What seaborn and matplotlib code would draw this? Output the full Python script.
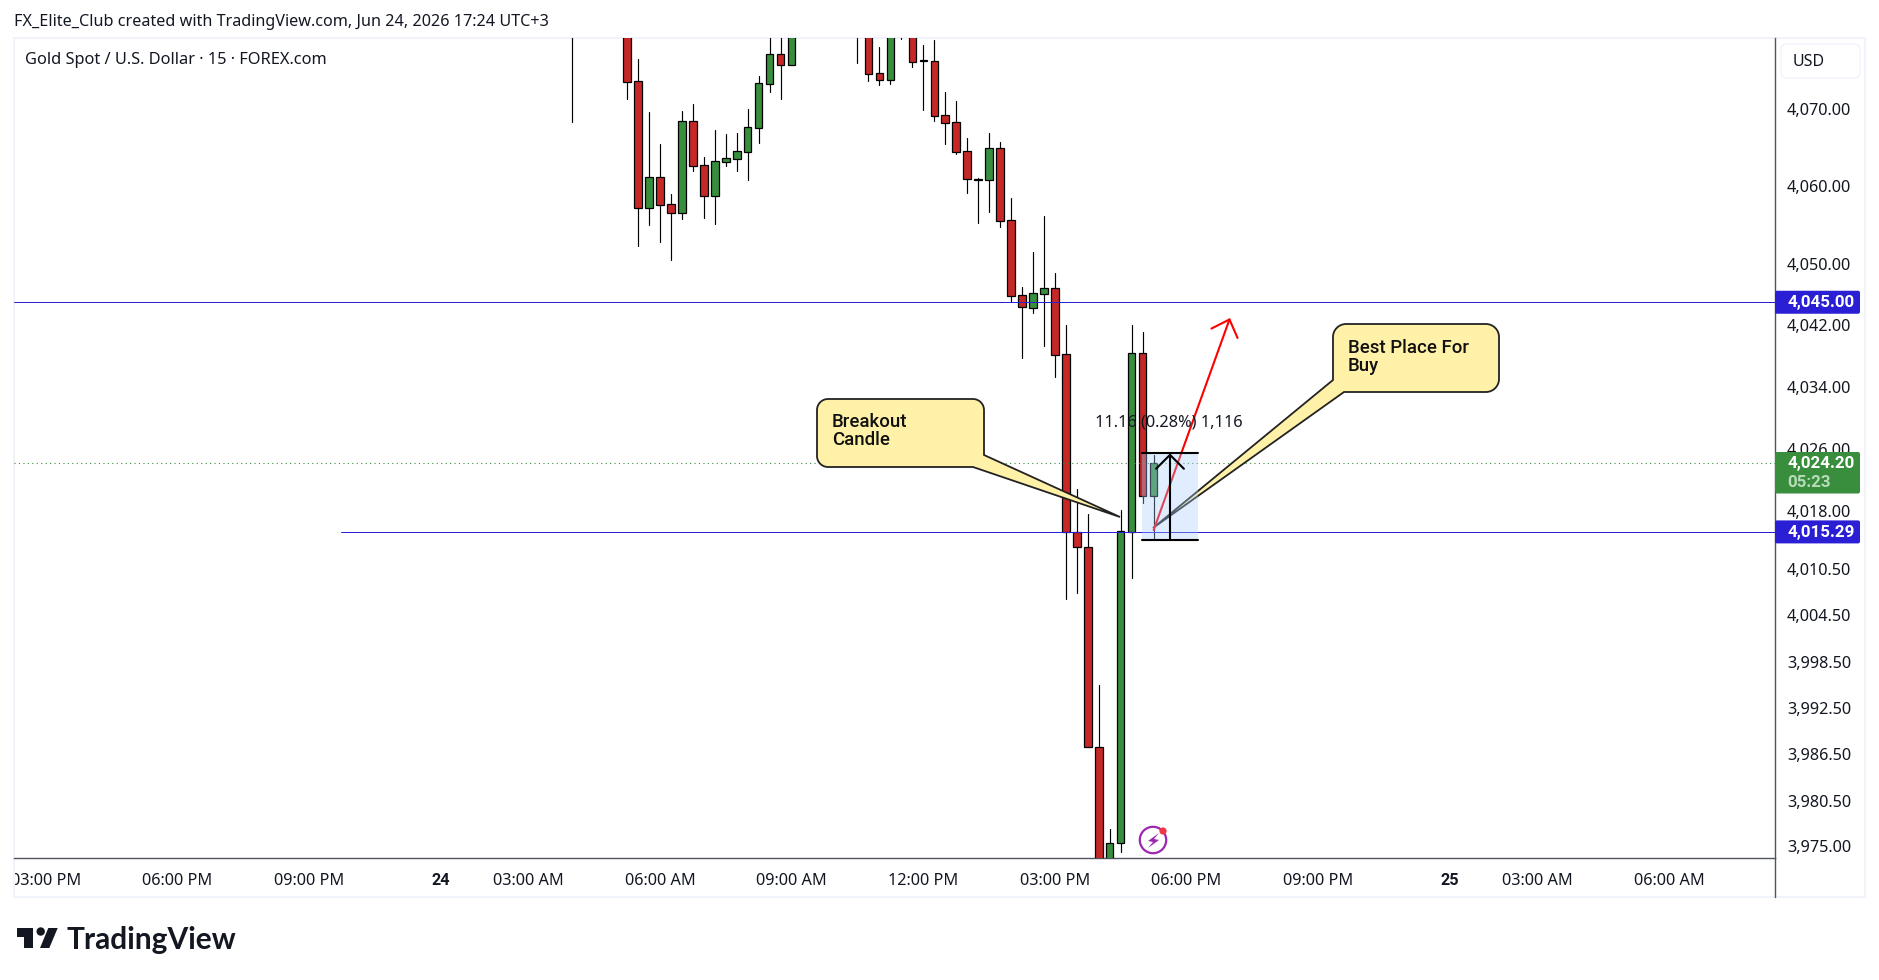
import numpy as np
import pandas as pd
import seaborn as sns
import matplotlib
matplotlib.use("Agg")
from matplotlib import pyplot as plt
from matplotlib.path import Path
from matplotlib.patches import PathPatch, Rectangle, FancyBboxPatch, Circle, Polygon
from matplotlib.transforms import Affine2D, Bbox

# 15 minute candles, bar 0 is 06:00 AM on the 24th. Bars above the window are estimates.
bars = list(range(-8, 46))
opens = [4082, 4086, 4088, 4087, 4085,
         4082, 4073.58, 4057.24, 4061.16, 4057.67, 4056.59, 4068.4, 4062.71, 4058.79, 4063.19,
         4063.58, 4064.48, 4067.59, 4073.28, 4077.07, 4075.74,
         4084, 4086, 4088, 4086, 4084, 4082,
         4082, 4074.61, 4073.79, 4082, 4082, 4076.2, 4076.17, 4069.18, 4068.28, 4064.52,
         4061.0, 4060.86, 4064.91, 4055.6, 4045.9, 4044.3, 4046.11, 4046.8, 4038.27, 4015.24,
         4013.38, 3987.5, 3971.0, 3975.09, 4015.32, 4038.39, 4019.98]
closes = [4085, 4088, 4087, 4085, 4082,
          4073.54, 4057.24, 4061.16, 4057.62, 4056.59, 4068.4, 4062.67, 4058.79, 4063.23, 4063.62,
          4064.52, 4067.63, 4073.32, 4077.07, 4075.74, 4082,
          4086, 4088, 4086, 4084, 4082, 4080.5,
          4074.57, 4073.79, 4082, 4082, 4076.12, 4076.17, 4069.14, 4068.23, 4064.48, 4060.99,
          4060.85, 4064.91, 4055.55, 4045.85, 4044.34, 4046.16, 4046.8, 4038.22, 4015.24, 4013.38,
          3987.5, 3970.0, 3975.09, 4015.37, 4038.39, 4019.98, 4024.16]
highs = [4088, 4090, 4090, 4089, 4087,
         4084, 4076.43, 4069.57, 4065.43, 4059.0, 4069.74, 4070.65, 4063.79, 4067.28, 4066.77,
         4066.9, 4070.0, 4074.27, 4080, 4080, 4083,
         4088, 4090, 4090, 4088, 4086, 4084,
         4084, 4078.02, 4083, 4084, 4084, 4078.28, 4078.93, 4072.2, 4071.03, 4066.25,
         4061.03, 4066.9, 4065.73, 4058.44, 4046.93, 4051.46, 4056.16, 4048.74, 4042.06, 4020.8,
         4017.61, 3995.49, 3976.82, 4018.13, 4042.06, 4041.11, 4025.24]
lows = [4068.36, 4084, 4085, 4084, 4081,
        4071.29, 4052.28, 4054.99, 4052.8, 4050.47, 4055.77, 4061.98, 4055.9, 4055.12, 4062.63,
        4061.98, 4060.82, 4065.6, 4072.2, 4071.29, 4075.74,
        4082, 4084, 4085, 4084, 4081, 4075.95,
        4073.62, 4073.1, 4073.23, 4079.1, 4075.43, 4069.87, 4068.45, 4065.47, 4064.18, 4059.13,
        4055.25, 4056.68, 4054.74, 4044.99, 4037.83, 4043.65, 4039.39, 4035.38, 4006.61, 4007.43,
        3987.5, 3968.0, 3969.0, 3973.93, 4009.37, 4019.07, 4014.25]

y_ticks = [4070, 4060, 4050, 4042, 4034, 4026, 4018, 4010.5, 4004.5, 3998.5, 3992.5, 3986.5, 3980.5, 3975]
x_ticks = [-56, -44, -32, -20, -12, 0, 12, 24, 36, 48, 60, 72, 80, 92]
x_labels = ["03:00 PM", "06:00 PM", "09:00 PM", "24", "03:00 AM", "06:00 AM", "09:00 AM", "12:00 PM",
            "03:00 PM", "06:00 PM", "09:00 PM", "25", "03:00 AM", "06:00 AM"]

level_high = 4045.00
level_low = 4015.29
last_price = 4024.20

W, H = 1879, 980
PLOT_L, PLOT_R, PLOT_T, PLOT_B = 14, 1775, 38, 858
FONT = "Noto Sans"
BOLD = "Roboto"
RED, GREEN, BLUE = "#c62828", "#388e3c", "#2a1fd4"
NOTE = "#fff2a8"


def to_y(px):
    return 4070 - (px - 109) / 7.73


def to_x(px):
    return (px - 660) / 10.97


def corner(x, y, cx, cy, ex, ey):
    # three control points of a rounded corner that ends at (ex, ey)
    return [(x + (cx - x) * 0.55, y + (cy - y) * 0.55), (ex + (cx - ex) * 0.55, ey + (cy - ey) * 0.55), (ex, ey)]


def callout(ax, px, x0, y0, x1, y1, r, skip, tail, text, tx, ty):
    # rounded box walked clockwise, the corner named by skip is replaced by the wedge
    verts = [(x0 + r, y0), (x1 - r, y0)] + corner(x1 - r, y0, x1, y0, x1, y0 + r)
    codes = [Path.MOVETO, Path.LINETO] + [Path.CURVE4] * 3
    if skip == "br":
        verts += tail
        codes += [Path.LINETO] * 3
    else:
        verts += [(x1, y1 - r)] + corner(x1, y1 - r, x1, y1, x1 - r, y1)
        codes += [Path.LINETO] + [Path.CURVE4] * 3
    if skip == "bl":
        verts += tail
        codes += [Path.LINETO] * 3
    else:
        verts += [(x0 + r, y1)] + corner(x0 + r, y1, x0, y1, x0, y1 - r)
        codes += [Path.LINETO] + [Path.CURVE4] * 3
    verts += [(x0, y0 + r)] + corner(x0, y0 + r, x0, y0, x0 + r, y0)
    codes += [Path.LINETO] + [Path.CURVE4] * 3
    ax.add_patch(PathPatch(Path(verts, codes), fc=NOTE, ec="#222222", lw=1.3, transform=px,
                           clip_on=False, zorder=6))
    ax.text(tx, ty, text, transform=px, fontsize=13.4, family=BOLD, color="#111111", va="top", ha="left",
            linespacing=1.0, zorder=7, fontweight="medium")


df = pd.DataFrame({"bar": bars, "open": opens, "close": closes, "high": highs, "low": lows})
df["top"] = df[["open", "close"]].max(axis=1)
df["bottom"] = df[["open", "close"]].min(axis=1)
df["height"] = (df["top"] - df["bottom"]).clip(lower=0.12)
up = df[df["close"] >= df["open"]]
down = df[df["close"] < df["open"]]
wicks = df.melt(id_vars="bar", value_vars=["low", "high"], value_name="price").sort_values(["bar", "price"])

sns.set_theme(style="white")
plt.rcParams["font.family"] = [FONT, "DejaVu Sans"]

fig = plt.figure(figsize=(W / 100, H / 100), dpi=100, facecolor="white")
ax = fig.add_axes([PLOT_L / W, 1 - PLOT_B / H, (PLOT_R - PLOT_L) / W, (PLOT_B - PLOT_T) / H])
px = Affine2D().scale(1, -1).translate(0, H)

sns.lineplot(data=wicks, x="bar", y="price", units="bar", estimator=None, sort=False, color="black",
             linewidth=0.85, ax=ax, zorder=2, legend=False)
for part, colour in ((up, GREEN), (down, RED)):
    sns.barplot(data=part, x="bar", y="height", bottom=part["bottom"].values, native_scale=True, width=0.68,
                color=colour, saturation=1, edgecolor="black", linewidth=0.9, errorbar=None, ax=ax, zorder=3)

ax.set_xlim(to_x(PLOT_L), to_x(PLOT_R))
ax.set_ylim(to_y(PLOT_B), to_y(PLOT_T))
ax.set_xlabel("")
ax.set_ylabel("")
ax.set_xticks(x_ticks)
ax.set_xticklabels(x_labels)
ax.set_yticks(y_ticks)
ax.set_yticklabels(["{:,.2f}".format(v) for v in y_ticks])
ax.yaxis.tick_right()
ax.tick_params(axis="both", length=0, labelsize=11.7, labelcolor="#131722")
ax.tick_params(axis="x", pad=10.5)
ax.tick_params(axis="y", pad=8.6)
for lab in ax.get_yticklabels():
    lab.set_ha("left")
    if lab.get_text() == "3,975.00":
        lab.set_transform(lab.get_transform() + Affine2D().translate(0, -3))
for lab in ax.get_xticklabels():
    lab.set_clip_on(True)
    lab.set_clip_box(Bbox([[PLOT_L, 0], [W, H]]))
    if lab.get_text() in ("24", "25"):
        lab.set_family(BOLD)
        lab.set_fontweight("bold")
for side in ("top", "left"):
    ax.spines[side].set_visible(False)
for side in ("right", "bottom"):
    ax.spines[side].set_color("#50535e")
    ax.spines[side].set_linewidth(1.0)

# outer frame and price scale parts
ax.add_patch(Rectangle((14, 38), 1851, 859, fc="none", ec="#f0f3fa", lw=1.5, transform=px, clip_on=False, zorder=1))
ax.plot([PLOT_R, PLOT_R], [PLOT_B, 897], color="#50535e", lw=1.0, transform=px, clip_on=False)
ax.add_patch(FancyBboxPatch((1783, 46), 75, 30, boxstyle="round,pad=2,rounding_size=6", fc="white", ec="#f0f3fa",
                            lw=1.0, transform=px, clip_on=False))
ax.text(1793, 62, "USD", transform=px, fontsize=11.5, color="#131722", va="center", ha="left")

# horizontal levels
ax.plot([to_x(PLOT_L), to_x(PLOT_R)], [level_high, level_high], color=BLUE, lw=0.72, zorder=4)
ax.plot([to_x(341), to_x(PLOT_R)], [level_low, level_low], color=BLUE, lw=0.72, zorder=4)
ax.plot([to_x(PLOT_L), to_x(PLOT_R)], [last_price, last_price], color=GREEN, lw=0.8, ls=(0, (1, 3)), zorder=4)

# callouts
callout(ax, px, 817, 399, 984, 467, 11, "br", [(984, 455), (1120, 517), (973, 467)], "Breakout\nCandle", 832, 413)
callout(ax, px, 1333, 324, 1499, 392, 13, "bl", [(1344, 392), (1153, 528), (1333, 380)], "Best Place For\nBuy", 1348, 339)

# long position arrow, then the measure box over it
ax.annotate("", xy=(to_x(1230), to_y(318)), xytext=(45, to_y(530)), zorder=8,
            arrowprops=dict(arrowstyle="->,head_length=1.06,head_width=1.0", color="#ff0000", lw=1.5,
                            shrinkA=0, shrinkB=0, mutation_scale=10))
ax.add_patch(Rectangle((to_x(1142), level_low - 1.0), to_x(1198) - to_x(1142), 11.16, fc="#a6ceff", ec="none",
                       alpha=0.35, zorder=9))
for price in (level_low - 1.0, level_low + 10.16):
    ax.plot([to_x(1142), to_x(1198)], [price, price], color="black", lw=1.5, zorder=10)
ax.annotate("", xy=(to_x(1170), level_low + 10.16), xytext=(to_x(1170), level_low - 1.0), zorder=10,
            arrowprops=dict(arrowstyle="->,head_length=1.0,head_width=1.0", color="black", lw=1.5,
                            shrinkA=0, shrinkB=0, mutation_scale=10))
ax.text(1169, 422, "11.16 (0.28%) 1,116", transform=px, fontsize=11.8, color="#131722", ha="center", va="center", zorder=11)

# price tags
for price, label in ((level_high, "4,045.00"), (level_low, "4,015.29")):
    ty = H - ax.transData.transform((0, price))[1]
    ax.add_patch(FancyBboxPatch((PLOT_R, ty - 11.5), 85, 23, boxstyle="round,pad=0,rounding_size=2", fc=BLUE, ec="none",
                                transform=px, clip_on=False, zorder=12))
    ax.text(1787.5, ty + 0.5, label, transform=px, fontsize=12.2, family=BOLD, fontweight="bold", color="white",
            va="center", ha="left", zorder=13, clip_on=False)
ax.add_patch(FancyBboxPatch((PLOT_R, 452), 85, 41.5, boxstyle="round,pad=0,rounding_size=2", fc=GREEN, ec="none",
                            transform=px, clip_on=False, zorder=12))
ax.text(1787.5, 463, "4,024.20", transform=px, fontsize=12.2, family=BOLD, fontweight="bold", color="white", va="center", ha="left", zorder=13)
ax.text(1787.5, 482, "05:23", transform=px, fontsize=12.2, family=BOLD, fontweight="bold", color="#b9dbbc", va="center", ha="left", zorder=13)

# alert icon
ax.add_patch(Circle((1153, 840), 13.2, fc="white", ec="#9c27b0", lw=1.6, transform=px, clip_on=False, zorder=5))
ax.add_patch(Polygon([(1159, 833), (1148, 841), (1153, 842), (1148, 848), (1159, 840), (1154, 839)], fc="#9c27b0",
                     ec="none", transform=px, zorder=5, clip_on=False))
ax.add_patch(Circle((1163, 831), 3.6, fc="#f23645", ec="none", transform=px, clip_on=False, zorder=5))

# header and watermark text
fig.text(14.5 / W, 1 - 22 / H, "FX_Elite_Club created with TradingView.com, Jun 24, 2026 17:24 UTC+3", fontsize=11.65,
         color="#131722", va="center")
fig.text(25 / W, 1 - 60 / H, "Gold Spot / U.S. Dollar · 15 · FOREX.com", fontsize=11.8, color="#131722", va="center")

logo = fig.add_axes([0, 0, 1, 1], facecolor="none")
logo.set_xlim(0, W)
logo.set_ylim(H, 0)
logo.axis("off")
logo.add_patch(Polygon([(17, 928), (33, 928), (33, 948), (24.5, 948), (24.5, 937), (17, 937)], fc="#131722", ec="none"))
logo.add_patch(Circle((40.7, 931.5), 4.2, fc="#131722", ec="none"))
logo.add_patch(Polygon([(48.3, 928), (57.7, 928), (49.3, 948), (40, 948)], fc="#131722", ec="none"))
logo.text(67, 940, "TradingView", fontsize=21.5, family="Lato", fontweight="bold", color="#131722", va="center")

fig.savefig("out.png", dpi=100)
